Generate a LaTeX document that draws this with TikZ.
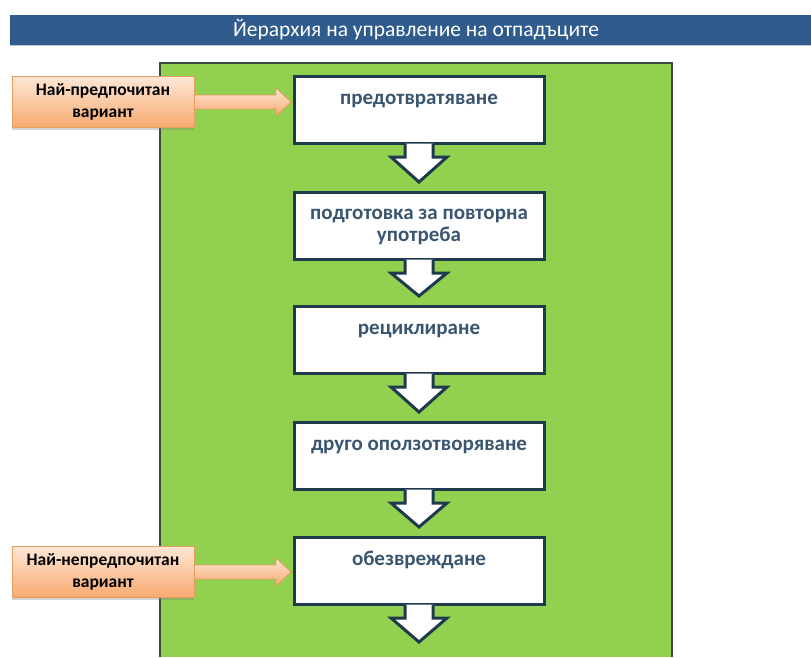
\documentclass[tikz,border=0pt]{standalone}
\usepackage{fontspec}
\setmainfont{Carlito}
\usetikzlibrary{calc,shadows}

\definecolor{faixa}{HTML}{2F5B8D}
\definecolor{verde}{HTML}{92D050}
\definecolor{bordaverde}{HTML}{3B4A3C}
\definecolor{contorno}{HTML}{1F3A4C}
\definecolor{textoazul}{HTML}{3A5570}
\definecolor{laranjaclaro}{HTML}{FDE7D6}
\definecolor{laranjaescuro}{HTML}{F7AA70}
\definecolor{laranjaborda}{HTML}{E59C5E}

\tikzset{
  etapa/.style={draw=contorno, line width=3pt, fill=white, minimum width=250pt, minimum height=67pt, inner sep=0pt},
  rotulo/.style={text=textoazul, font=\fontsize{21}{22}\selectfont\bfseries, align=center, anchor=base, inner sep=0pt},
  seta/.style={draw=contorno, line width=3pt, fill=white, line join=miter},
  nota/.style={draw=laranjaborda, line width=0.8pt, top color=laranjaclaro, bottom color=laranjaescuro, minimum width=182pt, minimum height=51pt, align=center, font=\fontsize{17.5}{22}\selectfont\bfseries, inner sep=0pt,
    drop shadow={shadow xshift=0pt, shadow yshift=-2.5pt, opacity=0.35}},
  setanota/.style={draw=laranjaborda, line width=0.8pt, top color=laranjaclaro, bottom color=laranjaescuro},
}

% seta larga para baixo, da etapa #1 ate #2
\newcommand{\setabaixo}[2]{%
  \filldraw[seta] ($(#1.south)+(-14,-1.5)$) -- ($(#1.south)+(-14,12)$) -- ($(#1.south)+(-28,12)$)
    -- ($(#1.south |- #2)+(0,-9)$) -- ($(#1.south)+(28,12)$) -- ($(#1.south)+(14,12)$) -- ($(#1.south)+(14,-1.5)$);}

% seta laranja da nota #1 ate a etapa #2
\newcommand{\setanota}[2]{%
  \shade[setanota] ($(#1.east)+(0,-7)$) -- ($(#1.east -| #2.west)+(-16.5,-7)$) -- ($(#1.east -| #2.west)+(-16.5,-14)$)
    -- ($(#1.east -| #2.west)+(-1.5,0)$) -- ($(#1.east -| #2.west)+(-16.5,14)$) -- ($(#1.east -| #2.west)+(-16.5,7)$)
    -- ($(#1.east)+(0,7)$) -- cycle;}

\begin{document}
\begin{tikzpicture}[>=stealth, x=1pt, y=-1pt]
  \useasboundingbox (0,0) rectangle (811,657);

  % faixa do titulo
  \fill[faixa] (10,15) rectangle (811,45);
  \draw[faixa!35, line width=1pt] (10,45) -- (811,45);
  \node[text=white, font=\fontsize{21.5}{24}\selectfont] (titulo) at (416,30) {Йерархия на управление на отпадъците};

  % painel verde (cortado embaixo)
  \fill[verde] (160,63) rectangle (672,657);
  \draw[bordaverde, line width=1.2pt] (160,657) -- (160,63) -- (672,63) -- (672,657);

  % etapas da hierarquia
  \node[etapa] (prevencao) at (419,110) {};
  \node[etapa] (reuso)     at (419,226) {};
  \node[etapa] (reciclagem) at (419,340) {};
  \node[etapa] (recuperacao) at (419,456) {};
  \node[etapa] (eliminacao) at (419,571) {};
  \coordinate (fim) at (419,651);

  % textos das etapas (perto do topo)
  \node[rotulo] (prevencao-t)   at ($(prevencao.north)+(0,29)$)   {предотвратяване};
  \node[rotulo] (reuso-t)       at ($(reuso.north)+(0,50)$)       {подготовка за повторна\\употреба};
  \node[rotulo] (reciclagem-t)  at ($(reciclagem.north)+(0,29)$)  {рециклиране};
  \node[rotulo] (recuperacao-t) at ($(recuperacao.north)+(0,29)$) {друго оползотворяване};
  \node[rotulo] (eliminacao-t)  at ($(eliminacao.north)+(0,29)$)  {обезвреждане};

  % setas entre etapas
  \setabaixo{prevencao}{reuso.north}
  \setabaixo{reuso}{reciclagem.north}
  \setabaixo{reciclagem}{recuperacao.north}
  \setabaixo{recuperacao}{eliminacao.north}
  \setabaixo{eliminacao}{fim}

  % notas laterais
  \node[nota] (melhor) at (103,102) {Най-предпочитан\\вариант};
  \node[nota] (pior)   at (103,572) {Най-непредпочитан\\вариант};
  \setanota{melhor}{prevencao}
  \setanota{pior}{eliminacao}
\end{tikzpicture}
\end{document}
